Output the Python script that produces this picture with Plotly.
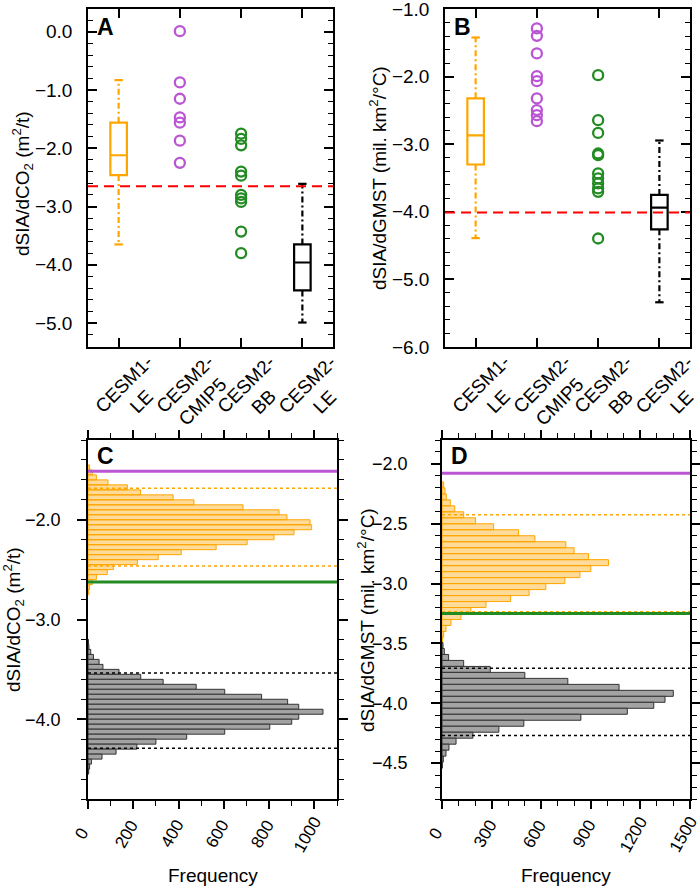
import plotly.graph_objects as go

# ---------------- data ----------------
categories = ["CESM1-<br>LE", "CESM2-<br>CMIP5", "CESM2-<br>BB", "CESM2-<br>LE"]
cat_pos = [1, 2, 3, 4]

# box stats: [min, q1, median, q3, max]
a_cesm1le_box = [-3.65, -2.46, -2.12, -1.56, -0.83]
a_cesm2le_box = [-4.99, -4.44, -3.96, -3.65, -2.61]
a_cmip5 = [0.01, -0.87, -1.15, -1.47, -1.56, -1.87, -2.25]
a_bb = [-1.75, -1.84, -1.95, -2.40, -2.47, -2.80, -2.86, -2.92, -3.43, -3.80]
a_obs = -2.65

b_cesm1le_box = [-4.39, -3.30, -2.87, -2.32, -1.42]
b_cesm2le_box = [-5.34, -4.26, -3.94, -3.75, -2.945]
b_cmip5 = [-1.286, -1.395, -1.656, -1.992, -2.066, -2.322, -2.495, -2.57, -2.658]
b_bb = [-1.977, -2.644, -2.832, -3.137, -3.162, -3.433, -3.507, -3.581, -3.655, -3.705, -4.396]
b_obs = -4.01

# Panel C histograms (bin centres, counts)
c_le1_centers = [-1.475, -1.525, -1.575, -1.625, -1.675, -1.725, -1.775, -1.825, -1.875,
                 -1.925, -1.975, -2.025, -2.075, -2.125, -2.175, -2.225, -2.275, -2.325,
                 -2.375, -2.425, -2.475, -2.525, -2.575, -2.625, -2.675, -2.725]
c_le1_counts = [7, 19, 37, 88, 174, 232, 376, 468, 685, 844, 879, 981, 988, 910, 822,
                703, 566, 412, 310, 218, 112, 85, 37, 19, 7, 3]
c_le2_centers = [-3.225, -3.275, -3.325, -3.375, -3.425, -3.475, -3.525, -3.575, -3.625,
                 -3.675, -3.725, -3.775, -3.825, -3.875, -3.925, -3.975, -4.025, -4.075,
                 -4.125, -4.175, -4.225, -4.275, -4.325, -4.375, -4.425, -4.475, -4.525]
c_le2_counts = [2, 4, 12, 24, 49, 66, 137, 233, 332, 478, 604, 767, 882, 931, 1038, 931,
                900, 803, 604, 436, 300, 216, 124, 62, 15, 7, 3]
c_cmip5_line = -1.513
c_bb_line = -2.624
c_le1_pct = [-1.683, -2.464]
c_le2_pct = [-3.537, -4.29]
c_xticks = [0, 200, 400, 600, 800, 1000]

# Panel D histograms
d_le1_centers = [-2.175, -2.225, -2.275, -2.325, -2.375, -2.425, -2.475, -2.525, -2.575,
                 -2.625, -2.675, -2.725, -2.775, -2.825, -2.875, -2.925, -2.975, -3.025,
                 -3.075, -3.125, -3.175, -3.225, -3.275, -3.325, -3.375, -3.425, -3.475]
d_le1_counts = [10, 18, 26, 50, 77, 131, 203, 312, 463, 562, 749, 799, 886, 1007, 900,
                834, 743, 628, 527, 415, 266, 175, 115, 54, 24, 10, 3]
d_le2_centers = [-3.517, -3.567, -3.617, -3.667, -3.717, -3.767, -3.817, -3.867, -3.917,
                 -3.967, -4.017, -4.067, -4.117, -4.167, -4.217, -4.267, -4.317, -4.367,
                 -4.417, -4.467, -4.517]
d_le2_counts = [6, 14, 40, 131, 292, 501, 761, 1071, 1399, 1349, 1281, 1121, 840, 495,
                344, 187, 85, 42, 24, 8, 2]
d_cmip5_line = -2.078
d_bb_line = -3.25
d_le1_pct = [-2.425, -3.236]
d_le2_pct = [-3.708, -4.269]
d_xticks = [0, 300, 600, 900, 1200, 1500]

ytitle_co2 = "dSIA/dCO<sub>2</sub> (m<sup>2</sup>/t)"
ytitle_gmst = "dSIA/dGMST (mil. km<sup>2</sup>/°C)"

# ---------------- style ----------------
ORANGE = "#FFA500"
PURPLE = "#BA55D3"
GREEN = "#228B22"
RED = "#FF0000"
BLACK = "#000000"
FONT = "Liberation Sans, Arial, Helvetica, sans-serif"
W, H = 700, 889


def px_x(a):
    return a / W


def px_y(a):
    return 1 - a / H


def dom_x(a, b):
    return [px_x(a), px_x(b)]


def dom_y(top, bottom):
    return [px_y(bottom), px_y(top)]


fig = go.Figure()

WHISK_DASH = "6px,3px,2px,3px"


def add_box(stats, pos, color, xa, ya):
    mn, q1, med, q3, mx = stats
    fig.add_trace(go.Box(x=[pos], q1=[q1], median=[med], q3=[q3],
                         lowerfence=[q1], upperfence=[q3], width=0.27,
                         whiskerwidth=0, line=dict(color=color, width=2.2),
                         fillcolor="rgba(255,255,255,0)", boxpoints=False,
                         xaxis=xa, yaxis=ya, showlegend=False, hoverinfo="skip"))
    for lo, hi in [(q3, mx), (q1, mn)]:
        fig.add_trace(go.Scatter(x=[pos, pos], y=[lo, hi], mode="lines",
                                 line=dict(color=color, width=2.2, dash=WHISK_DASH),
                                 xaxis=xa, yaxis=ya, showlegend=False))
    fig.add_trace(go.Scatter(x=[pos, pos], y=[mn, mx], mode="markers",
                             marker=dict(symbol="line-ew", size=6, color=color,
                                         line=dict(color=color, width=2.2)),
                             xaxis=xa, yaxis=ya, showlegend=False))


def add_circles(vals, pos, color, xa, ya):
    fig.add_trace(go.Scatter(x=[pos] * len(vals), y=vals, mode="markers",
                             marker=dict(symbol="circle-open", size=10, color=color,
                                         line=dict(color=color, width=2.3)),
                             xaxis=xa, yaxis=ya, showlegend=False))


# Panel A
add_box(a_cesm1le_box, cat_pos[0], ORANGE, "x", "y")
add_circles(a_cmip5, cat_pos[1], PURPLE, "x", "y")
add_circles(a_bb, cat_pos[2], GREEN, "x", "y")
add_box(a_cesm2le_box, cat_pos[3], BLACK, "x", "y")
# Panel B
add_box(b_cesm1le_box, cat_pos[0], ORANGE, "x2", "y2")
add_circles(b_cmip5, cat_pos[1], PURPLE, "x2", "y2")
add_circles(b_bb, cat_pos[2], GREEN, "x2", "y2")
add_box(b_cesm2le_box, cat_pos[3], BLACK, "x2", "y2")

# red obs lines
for val, xr, yr in [(a_obs, "x", "y"), (b_obs, "x2", "y2")]:
    fig.add_shape(type="line", xref=f"{xr} domain", yref=yr, x0=0, x1=1, y0=val, y1=val,
                  line=dict(color=RED, width=2, dash="10px,6px"), layer="above")


def add_hist(centers, counts, fill, edge, xa, ya):
    fig.add_trace(go.Bar(y=centers, x=counts, orientation="h", width=0.05,
                         marker=dict(color=fill, line=dict(color=edge, width=1)),
                         xaxis=xa, yaxis=ya, showlegend=False))


ORANGE_FILL = "rgba(255,165,0,0.4)"
GREY_FILL = "#A3A3A3"
add_hist(c_le1_centers, c_le1_counts, ORANGE_FILL, ORANGE, "x3", "y3")
add_hist(c_le2_centers, c_le2_counts, GREY_FILL, "#333333", "x3", "y3")
add_hist(d_le1_centers, d_le1_counts, ORANGE_FILL, ORANGE, "x4", "y4")
add_hist(d_le2_centers, d_le2_counts, GREY_FILL, "#333333", "x4", "y4")


def hline(val, xr, yr, color, width, dash="solid"):
    fig.add_shape(type="line", xref=f"{xr} domain", yref=yr, x0=0, x1=1, y0=val, y1=val,
                  line=dict(color=color, width=width, dash=dash), layer="above")


for v in c_le1_pct:
    hline(v, "x3", "y3", ORANGE, 1.5, "dot")
for v in c_le2_pct:
    hline(v, "x3", "y3", BLACK, 1.5, "dot")
hline(c_cmip5_line, "x3", "y3", PURPLE, 3)
hline(c_bb_line, "x3", "y3", GREEN, 3)
for v in d_le1_pct:
    hline(v, "x4", "y4", ORANGE, 1.5, "dot")
for v in d_le2_pct:
    hline(v, "x4", "y4", BLACK, 1.5, "dot")
hline(d_cmip5_line, "x4", "y4", PURPLE, 3)
hline(d_bb_line, "x4", "y4", GREEN, 3)

# ---------------- axes ----------------
common = dict(showline=True, linecolor="black", linewidth=1.5, mirror="allticks",
              showgrid=False, zeroline=False, tickcolor="black", tickwidth=1.5,
              automargin=False, ticklabeloverflow="allow")
TF19 = dict(family=FONT, size=19, color="black")
TF18 = dict(family=FONT, size=18, color="black")

xbox = dict(common, range=[0.5, 4.5], tickmode="array", tickvals=cat_pos,
            showticklabels=False, ticks="inside", ticklen=9)
minor_in = lambda d: dict(dtick=d, ticks="inside", ticklen=5, tickcolor="black", tickwidth=1)
minor_out = lambda d: dict(dtick=d, ticks="outside", ticklen=5, tickcolor="black", tickwidth=1)
fig.update_layout(
    xaxis=dict(xbox, domain=dom_x(88, 333), anchor="y"),
    xaxis2=dict(xbox, domain=dom_x(445, 690), anchor="y2"),
    yaxis=dict(common, domain=dom_y(9, 347), anchor="x", range=[-5.41, 0.39],
               tick0=0, dtick=1, tickformat=".1f", ticks="inside", ticklen=9,
               tickfont=TF19, ticklabelstandoff=10, minor=minor_in(0.2)),
    yaxis2=dict(common, domain=dom_y(9, 347), anchor="x2", range=[-6.002, -0.998],
                tick0=0, dtick=1, tickformat=".1f", ticks="inside", ticklen=9,
                tickfont=TF19, ticklabelstandoff=10, minor=minor_in(0.2)),
    xaxis3=dict(common, domain=dom_x(88, 337), anchor="y3", range=[0, 1100],
                tickmode="array", tickvals=c_xticks, showticklabels=False,
                ticks="outside", ticklen=8, minor=minor_out(100)),
    yaxis3=dict(common, domain=dom_y(440, 799), anchor="x3", range=[-4.8, -1.2],
                tick0=0, dtick=1, tickformat=".1f", ticks="outside", ticklen=9,
                tickfont=TF18, ticklabelstandoff=13, minor=minor_out(0.2)),
    xaxis4=dict(common, domain=dom_x(442, 690), anchor="y4", range=[0, 1500],
                tickmode="array", tickvals=d_xticks, showticklabels=False,
                ticks="outside", ticklen=8, minor=minor_out(100)),
    yaxis4=dict(common, domain=dom_y(440, 799), anchor="x4", range=[-4.8, -1.8],
                tick0=0, dtick=0.5, tickformat=".1f", ticks="outside", ticklen=9,
                tickfont=TF18, ticklabelstandoff=20, minor=minor_out(0.1)),
)

# y-axis titles (rotated)
for txt, xc, yc in [(ytitle_co2, 22, 184), (ytitle_gmst, 378, 178),
                    (ytitle_co2, 13, 620), (ytitle_gmst, 366, 620)]:
    fig.add_annotation(text=txt, xref="paper", yref="paper", x=px_x(xc), y=px_y(yc),
                       xanchor="center", yanchor="middle", textangle=-90, showarrow=False,
                       font=dict(family=FONT, size=19, color="black"))

# category labels (rotated, two lines)
for xr in ["x", "x2"]:
    for pos, lab in zip(cat_pos, categories):
        fig.add_annotation(text=lab, xref=xr, yref="paper", x=pos, y=px_y(393),
                           xshift=14, xanchor="center", yanchor="middle", align="center",
                           textangle=-45, showarrow=False,
                           font=dict(family=FONT, size=19, color="black"))

# histogram x tick labels (rotated, centred below ticks)
for xr, ticks in [("x3", c_xticks), ("x4", d_xticks)]:
    for t in ticks:
        fig.add_annotation(text=str(t), xref=xr, yref="paper", x=t, y=px_y(834),
                           xshift=-7, xanchor="center", yanchor="middle",
                           textangle=-60, showarrow=False,
                           font=dict(family=FONT, size=17, color="black"))

# Frequency titles
for xr in ["x3", "x4"]:
    fig.add_annotation(text="Frequency", xref=f"{xr} domain", yref="paper", x=0.5,
                       y=px_y(875), xanchor="center", yanchor="middle", showarrow=False,
                       font=dict(family=FONT, size=19, color="black"))

for letter, xr, yr, ys in [("A", "x", "y", -3), ("B", "x2", "y2", -3),
                           ("C", "x3", "y3", -1), ("D", "x4", "y4", -1)]:
    fig.add_annotation(text=f"<b>{letter}</b>", xref=f"{xr} domain", yref=f"{yr} domain",
                       x=0, y=1, xanchor="left", yanchor="top", xshift=7, yshift=ys,
                       showarrow=False, font=dict(family=FONT, size=23, color="black"))

fig.update_layout(width=W, height=H, margin=dict(l=0, r=0, t=0, b=0),
                  paper_bgcolor="white", plot_bgcolor="white", barmode="overlay",
                  font=dict(family=FONT, color="black"), showlegend=False)

fig.write_html("out.html", config={"displayModeBar": False},
               post_script="document.body.style.margin='0px';")
